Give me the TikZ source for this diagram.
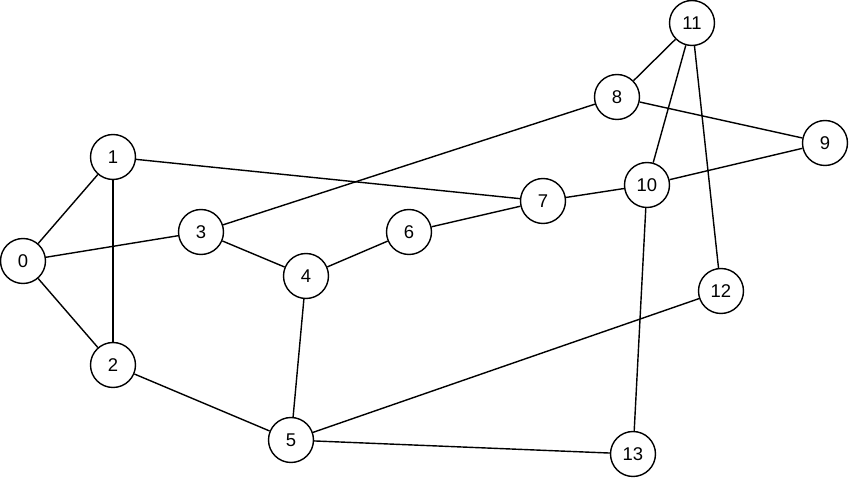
\documentclass[tikz,border=0pt]{standalone}
\usepackage{fontspec}
\setmainfont{Liberation Sans}
\usepackage{tikz}

\begin{document}
\begin{tikzpicture}[x=0.02cm, y=-0.02cm,
  vertex/.style={circle, draw, line width=0.8pt, fill=white, minimum size=0.9cm, inner sep=0pt,
    font=\fontsize{10.5}{12}\selectfont},
  edge/.style={line width=0.8pt}]
  \useasboundingbox (0,0) rectangle (850,479);
  % vertices
  \node[vertex] (n0)  at (23,261)  {0};
  \node[vertex] (n1)  at (113,157) {1};
  \node[vertex] (n2)  at (113,365) {2};
  \node[vertex] (n3)  at (201,232) {3};
  \node[vertex] (n4)  at (306,276) {4};
  \node[vertex] (n5)  at (291,440) {5};
  \node[vertex] (n6)  at (409,232) {6};
  \node[vertex] (n7)  at (543,201) {7};
  \node[vertex] (n8)  at (617,97)  {8};
  \node[vertex] (n9)  at (825,143) {9};
  \node[vertex] (n10) at (647,185) {10};
  \node[vertex] (n11) at (692,23)  {11};
  \node[vertex] (n12) at (721,291) {12};
  \node[vertex] (n13) at (633,454) {13};
  % edges
  \foreach \a/\b in {0/1, 0/2, 0/3, 1/2, 1/7, 3/8, 3/4, 4/6, 6/7, 7/10,
                     10/9, 8/9, 8/11, 11/10, 11/12, 4/5, 2/5, 5/12, 5/13, 10/13}
    \draw[edge] (n\a) -- (n\b);
\end{tikzpicture}
\end{document}
